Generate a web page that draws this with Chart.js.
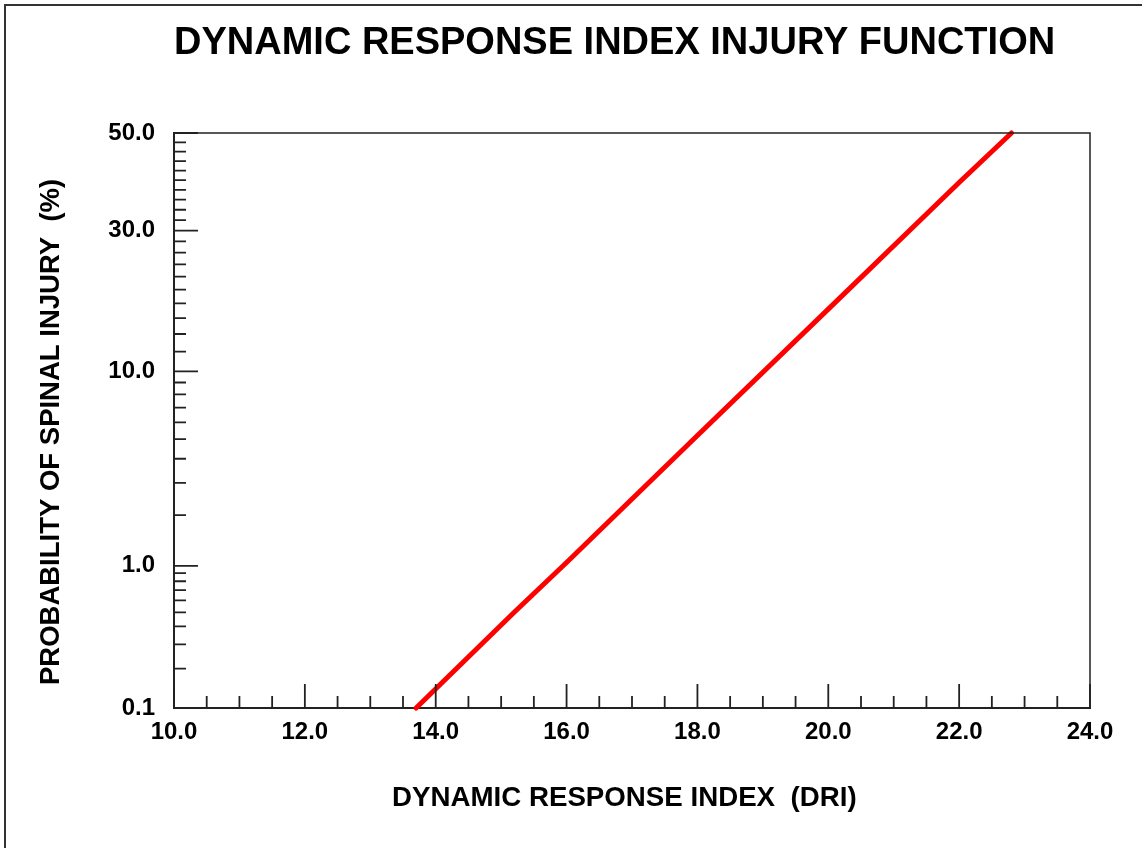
<!DOCTYPE html>
<html>
<head>
<meta charset="utf-8">
<title>Dynamic Response Index Injury Function</title>
<script src="https://cdn.jsdelivr.net/npm/chart.js@4/dist/chart.umd.min.js"></script>
<style>
    html, body { margin: 0; padding: 0; background: #ffffff; }
    #wrap { width: 1142px; height: 848px; }
</style>
</head>
<body>
<div id="wrap"><canvas id="driChart" width="1142" height="848"></canvas></div>
<script>
// Data
const driValues = [13.7, 15.2, 16.0, 18.0, 20.0, 22.0, 22.8];
const injuryPercent = [0.1, 0.5, 1.05, 5.2, 17.2, 39.5, 50.0];

// Axis ticks
const xMajorTicks = [10, 12, 14, 16, 18, 20, 22, 24];
const xMinorTicks = [10.5, 11, 11.5, 12.5, 13, 13.5, 14.5, 15, 15.5, 16.5, 17, 17.5,
    18.5, 19, 19.5, 20.5, 21, 21.5, 22.5, 23, 23.5];
const yMajorTicks = [0.1, 1, 10, 30, 50];
const yMinorTicks = [0.2, 0.3, 0.4, 0.5, 0.6, 0.7, 0.8, 0.9,
    2, 3, 4, 5, 6, 7, 8, 9,
    12, 14, 16, 18, 20, 22, 24, 26, 28,
    32, 34, 36, 38, 40, 42, 44, 46, 48];

const FONT = "'Liberation Sans', Arial, Helvetica, sans-serif";
const INK = "#222222";


// Inverse normal CDF (Acklam)
function probit(p) {
    const a = [-3.969683028665376e+01, 2.209460984245205e+02, -2.759285104469687e+02,
        1.383577518672690e+02, -3.066479806614716e+01, 2.506628277459239e+00];
    const b = [-5.447609879822406e+01, 1.615858368580409e+02, -1.556989798598866e+02,
        6.680131188771972e+01, -1.328068155288572e+01];
    const c = [-7.784894002430293e-03, -3.223964580411365e-01, -2.400758277161838e+00,
        -2.549671348283508e+00, 4.374664141464968e+00, 2.938163982698783e+00];
    const d = [7.784695709041462e-03, 3.224671290700398e-01, 2.445134137142996e+00,
        3.754408661907416e+00];
    const pLow = 0.02425;

    if (p < pLow) {
        const q = Math.sqrt(-2 * Math.log(p));
        return (((((c[0] * q + c[1]) * q + c[2]) * q + c[3]) * q + c[4]) * q + c[5]) /
            ((((d[0] * q + d[1]) * q + d[2]) * q + d[3]) * q + 1);
    }
    if (p > 1 - pLow) {
        const q = Math.sqrt(-2 * Math.log(1 - p));
        return -(((((c[0] * q + c[1]) * q + c[2]) * q + c[3]) * q + c[4]) * q + c[5]) /
            ((((d[0] * q + d[1]) * q + d[2]) * q + d[3]) * q + 1);
    }
    const q = p - 0.5;
    const r = q * q;
    return (((((a[0] * r + a[1]) * r + a[2]) * r + a[3]) * r + a[4]) * r + a[5]) * q /
        (((((b[0] * r + b[1]) * r + b[2]) * r + b[3]) * r + b[4]) * r + 1);
}


// Probability (normal) scale, values in percent
class ProbitScale extends Chart.Scale {

    determineDataLimits() {
        const { min, max } = this.getMinMax(false);
        this.min = this.options.min ?? min;
        this.max = this.options.max ?? max;
    }

    buildTicks() {
        return yMajorTicks.map(v => ({ value: v }));
    }

    configure() {
        super.configure();
        this._zStart = probit(this.min / 100);
        this._zRange = probit(this.max / 100) - this._zStart;
    }

    getLabelForValue(value) {
        return Number(value).toFixed(1);
    }

    getPixelForValue(value) {
        if (value === null || isNaN(value)) return NaN;
        return this.getPixelForDecimal((probit(value / 100) - this._zStart) / this._zRange);
    }

    getValueForPixel(pixel) {
        const z = this._zStart + this.getDecimalForPixel(pixel) * this._zRange;
        let lo = 1e-9, hi = 1 - 1e-9;
        for (let i = 0; i < 60; i++) {
            const mid = (lo + hi) / 2;
            if (probit(mid) < z) lo = mid; else hi = mid;
        }
        return lo * 100;
    }
}
ProbitScale.id = "probit";
ProbitScale.defaults = {};

Chart.register(ProbitScale);


// Inward tick marks, plot frame and page frame
const frameTicks = {
    id: "frameTicks",
    afterDraw(chart) {
        const { ctx, chartArea, scales } = chart;
        const { left, right, top, bottom } = chartArea;

        ctx.save();

        // page frame (left and top only)
        ctx.strokeStyle = "#333333";
        ctx.lineWidth = 2;
        ctx.beginPath();
        ctx.moveTo(5, chart.height);
        ctx.lineTo(5, 5);
        ctx.lineTo(chart.width, 5);
        ctx.stroke();

        // top and right of the plot box
        ctx.strokeStyle = INK;
        ctx.lineWidth = 1.5;
        ctx.beginPath();
        ctx.moveTo(left, top);
        ctx.lineTo(right, top);
        ctx.lineTo(right, bottom);
        ctx.stroke();

        ctx.lineWidth = 1.8;
        ctx.beginPath();

        xMajorTicks.forEach(v => {
            const x = scales.x.getPixelForValue(v);
            ctx.moveTo(x, bottom);
            ctx.lineTo(x, bottom - 24);
        });
        xMinorTicks.forEach(v => {
            const x = scales.x.getPixelForValue(v);
            ctx.moveTo(x, bottom);
            ctx.lineTo(x, bottom - 12);
        });
        yMajorTicks.forEach(v => {
            const y = scales.y.getPixelForValue(v);
            ctx.moveTo(left, y);
            ctx.lineTo(left + 24, y);
        });
        yMinorTicks.forEach(v => {
            const y = scales.y.getPixelForValue(v);
            ctx.moveTo(left, y);
            ctx.lineTo(left + 12, y);
        });

        ctx.stroke();
        ctx.restore();
    }
};


const ctx = document.getElementById("driChart").getContext("2d");

const driChart = new Chart(ctx, {
    type: "line",
    data: {
        datasets: [
            {
                label: "Injury probability",
                data: driValues.map((v, i) => ({ x: v, y: injuryPercent[i] })),
                borderColor: "#ff0000",
                backgroundColor: "#ff0000",
                borderWidth: 5,
                borderCapStyle: "round",
                pointRadius: 0,
                tension: 0,
                clip: false
            }
        ]
    },
    options: {
        responsive: false,
        animation: false,
        layout: {
            padding: { left: 0, right: 52, top: 0, bottom: 0 }
        },
        plugins: {
            legend: { display: false },
            tooltip: { enabled: false },
            title: {
                display: true,
                fullSize: false,
                align: "start",
                text: "DYNAMIC RESPONSE INDEX INJURY FUNCTION",
                color: "#000000",
                font: { family: FONT, size: 38, weight: "bold", lineHeight: 1.2 },
                padding: { top: 21, bottom: 66.4 }
            }
        },
        scales: {
            x: {
                type: "linear",
                min: 10,
                max: 24,
                grid: { display: false, drawTicks: false },
                border: { display: true, color: INK, width: 2 },
                ticks: {
                    stepSize: 2,
                    padding: 10,
                    maxRotation: 0,
                    color: "#000000",
                    font: { family: FONT, size: 24, weight: "bold" },
                    callback: v => Number(v).toFixed(1)
                },
                title: {
                    display: true,
                    // trailing spaces nudge the centred title left a little
                    text: "DYNAMIC RESPONSE INDEX  (DRI)  ",
                    color: "#000000",
                    font: { family: FONT, size: 27.7, weight: "bold", lineHeight: 1.2 },
                    padding: { top: 0, bottom: 33.5 }
                },
                afterFit: scale => { scale.height = 140; }
            },
            y: {
                type: "probit",
                position: "left",
                min: 0.1,
                max: 50,
                grid: { display: false, drawTicks: false },
                border: { display: true, color: INK, width: 2 },
                ticks: {
                    padding: 19,
                    color: "#000000",
                    font: { family: FONT, size: 24, weight: "bold" },
                    callback: v => Number(v).toFixed(1)
                },
                title: {
                    display: true,
                    // trailing spaces nudge the rotated title down a little
                    text: "PROBABILITY OF SPINAL INJURY  (%)   ",
                    color: "#000000",
                    font: { family: FONT, size: 27.5, weight: "bold", lineHeight: 1.2 },
                    padding: { top: 35, bottom: 0 }
                },
                afterFit: scale => { scale.width = 174; }
            }
        }
    },
    plugins: [frameTicks]
});
</script>
</body>
</html>
